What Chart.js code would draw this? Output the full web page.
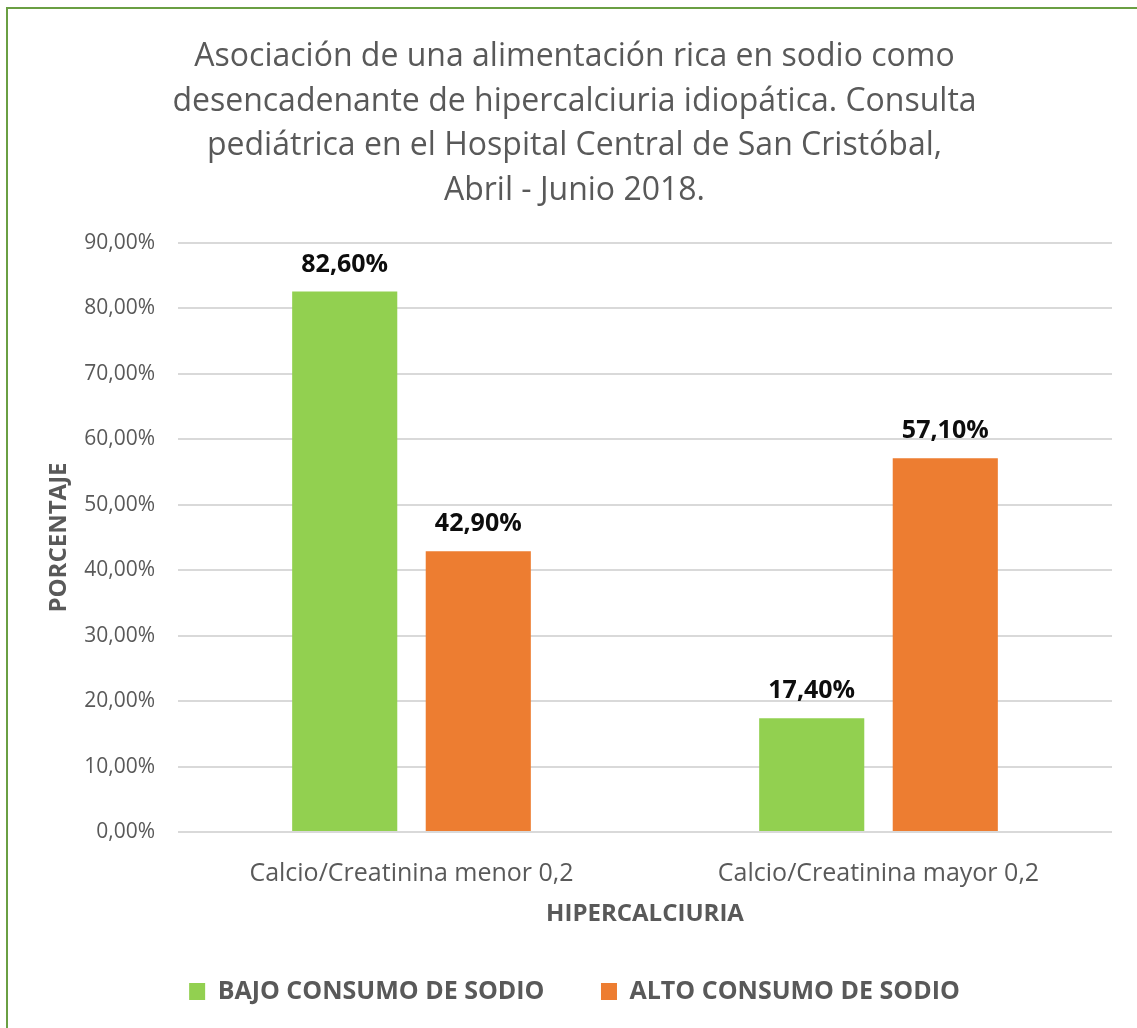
<!DOCTYPE html>
<html>
<head>
<meta charset="utf-8">
<script src="https://cdn.jsdelivr.net/npm/chart.js@4.4.1/dist/chart.umd.min.js"></script>
<style>
    html, body { margin: 0; padding: 0; background: #fff; overflow: hidden; }
    #wrap { position: relative; width: 1137px; height: 1028px; overflow: hidden; }
    #frame { position: absolute; left: 6px; top: 7px; width: 1200px; height: 1100px; border: 2px solid #6a9f43; box-sizing: border-box; pointer-events: none; }
    #chart { position: absolute; left: 0; top: 0; }
</style>
</head>
<body>
<div id="wrap">
    <canvas id="chart" width="1137" height="1028"></canvas>
    <div id="frame"></div>
</div>
<script>
const titleLines = [
    'Asociación de una alimentación rica en sodio como',
    'desencadenante de hipercalciuria idiopática. Consulta',
    'pediátrica en el Hospital Central de San Cristóbal,',
    'Abril - Junio 2018.'
];
const categories = ['Calcio/Creatinina menor 0,2', 'Calcio/Creatinina mayor 0,2'];
const seriesNames = ['BAJO CONSUMO DE SODIO', 'ALTO CONSUMO DE SODIO'];
const bajoConsumo = [82.6, 17.4];
const altoConsumo = [42.9, 57.1];
const yMin = 0;
const yMax = 90;
const yStep = 10;

const FONT = "'Open Sans', sans-serif";
const GREY = '#595959';

const fmtPct = v => v.toFixed(2).replace('.', ',') + '%';

// values above the bars
const barLabels = {
    id: 'barLabels',
    afterDatasetsDraw(chart) {
        const ctx = chart.ctx;
        ctx.save();
        ctx.font = 'bold 25px ' + FONT;
        ctx.fillStyle = '#0d0d0d';
        ctx.textAlign = 'center';
        ctx.textBaseline = 'middle';
        chart.data.datasets.forEach((ds, i) => {
            chart.getDatasetMeta(i).data.forEach((bar, j) => {
                ctx.fillText(fmtPct(ds.data[j]), bar.x, bar.y - 27);
            });
        });
        ctx.restore();
    }
};

new Chart(document.getElementById('chart').getContext('2d'), {
    type: 'bar',
    data: {
        labels: categories,
        datasets: [
            { label: seriesNames[0], data: bajoConsumo, backgroundColor: '#92d050' },
            { label: seriesNames[1], data: altoConsumo, backgroundColor: '#ed7d31' }
        ]
    },
    options: {
        responsive: false,
        animation: false,
        categoryPercentage: 0.572,
        barPercentage: 0.787,
        layout: { padding: { left: 37, right: 25, top: 0, bottom: 14 } },
        plugins: {
            tooltip: { enabled: false },
            title: {
                display: true,
                text: titleLines,
                color: GREY,
                font: { family: FONT, size: 32, weight: 'normal', lineHeight: 44.7 / 32 },
                padding: { top: 34.6, bottom: 29.6 }
            },
            legend: {
                position: 'bottom',
                labels: {
                    color: GREY,
                    font: { family: FONT, size: 25, weight: 'bold' },
                    boxWidth: 16,
                    boxHeight: 17,
                    padding: 56.5
                }
            }
        },
        scales: {
            x: {
                grid: { display: false, drawTicks: false },
                border: { display: false },
                ticks: { color: GREY, font: { family: FONT, size: 25 }, padding: 27 },
                title: {
                    display: true,
                    text: 'HIPERCALCIURIA',
                    color: GREY,
                    font: { family: FONT, size: 24, weight: 'bold' },
                    padding: { top: 0, bottom: -6.4 }
                },
                afterFit(scale) { scale.height = 90.5; }
            },
            y: {
                min: yMin,
                max: yMax,
                grid: { color: '#d9d9d9', lineWidth: 2, drawTicks: false },
                border: { display: false },
                ticks: {
                    stepSize: yStep,
                    color: GREY,
                    font: { family: FONT, size: 21 },
                    padding: 23,
                    callback: v => fmtPct(v)
                },
                title: {
                    display: true,
                    text: 'PORCENTAJE',
                    color: GREY,
                    font: { family: FONT, size: 24, weight: 'bold' },
                    padding: { top: 7.6, bottom: 0 }
                },
                afterFit(scale) { scale.width = 141; }
            }
        }
    },
    plugins: [barLabels]
});
</script>
</body>
</html>
